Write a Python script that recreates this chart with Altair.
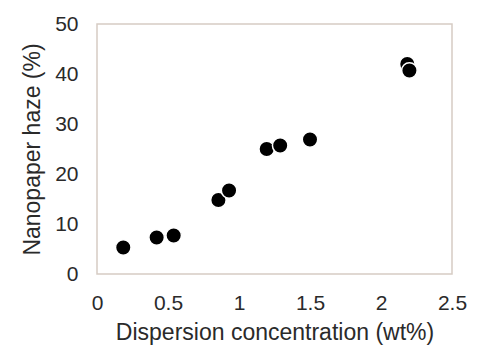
import altair as alt
import pandas as pd

conc = [0.185, 0.42, 0.54, 0.855, 0.93, 1.195, 1.29, 1.50, 2.185, 2.20]
haze = [5.3, 7.3, 7.7, 14.8, 16.7, 25.0, 25.7, 26.9, 42.0, 40.7]

df = pd.DataFrame({"conc": conc, "haze": haze})

chart = alt.Chart(df).mark_circle(
    size=240, color="black", opacity=1, stroke="white", strokeWidth=1.5
).encode(
    x=alt.X("conc:Q", scale=alt.Scale(domain=[0, 2.5], nice=False),
            axis=alt.Axis(values=[0, 0.5, 1, 1.5, 2, 2.5], format="~g",
                          title="Dispersion concentration (wt%)",
                          grid=False, ticks=False, domain=False, labelPadding=18,
                          labelFontSize=21, titleFontSize=23, titlePadding=8,
                          labelFlush=False)),
    y=alt.Y("haze:Q", scale=alt.Scale(domain=[0, 50], nice=False),
            axis=alt.Axis(values=[0, 10, 20, 30, 40, 50], title="Nanopaper haze (%)",
                          grid=False, ticks=False, domain=False, labelPadding=19,
                          labelFontSize=21, titleFontSize=23, titlePadding=10,
                          labelFlush=False)),
).properties(
    width=355, height=250,
    autosize="none",
    padding={"left": 97, "top": 24, "right": 27, "bottom": 73},
).configure_view(
    stroke="#d6ccc4", strokeWidth=1.5
).configure_axis(
    labelFont="Liberation Sans", titleFont="Liberation Sans",
    labelColor="#2a2a2a", titleColor="#2a2a2a", titleFontWeight="normal"
)

chart.save("out.html", embed_options={"renderer": "svg", "actions": False})
